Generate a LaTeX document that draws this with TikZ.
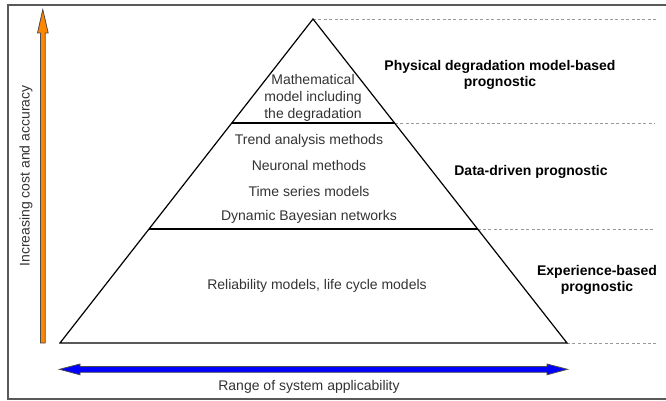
\documentclass[tikz,border=0pt]{standalone}
\usepackage{fontspec}
\setmainfont{Liberation Sans}
\begin{document}
\begin{tikzpicture}[x=1pt,y=-1pt,
  txt/.style={font=\fontsize{14}{17}\selectfont, text=black!80, inner sep=0pt, align=center},
  lbl/.style={font=\fontsize{14}{16.5}\selectfont\bfseries, text=black, inner sep=0pt, align=center},
  guide/.style={draw=black!40, line width=0.9pt, dash pattern=on 3pt off 2.4pt},
  edge/.style={draw=black, line width=1.2pt},
  layer/.style={draw=black, line width=2pt},
  arrowbody/.style={draw=black!70, line width=0.8pt, line join=miter}]
\useasboundingbox (0,0) rectangle (666,401);
% frame
\draw[black!65, line width=1.6pt] (670,5) -- (8,5) -- (8,399) -- (670,399);
% pyramid corners
\coordinate (apex) at (313,19);
\coordinate (bl) at (60,343);
\coordinate (br) at (567,343);
\coordinate (l1a) at (231.6,123);
\coordinate (l1b) at (394.7,123);
\coordinate (l2a) at (148.9,229);
\coordinate (l2b) at (477.6,229);
% guides
\coordinate (g0) at (657,19);
\coordinate (g1) at (655,123);
\coordinate (g2) at (653,229);
\coordinate (g3) at (657,343);
\draw[guide] (apex) -- (g0);
\draw[guide] (l1b) -- (g1);
\draw[guide] (l2b) -- (g2);
\draw[guide] (br) -- (g3);
% pyramid
\draw[edge, line join=miter] (bl) -- (apex) -- (br) -- cycle;
\draw[layer] (l1a) -- (l1b);
\draw[layer] (l2a) -- (l2b);
% orange arrow
\filldraw[arrowbody, fill=orange!95!yellow] (40.5,343) -- (40.5,33) -- (37.5,33) -- (42.8,9.5) -- (48.2,33) -- (45.2,33) -- (45.2,343) -- cycle;
% blue arrow
\filldraw[arrowbody, fill=blue] (80,366.5) -- (80,364) -- (59.5,369.3) -- (80,374.8) -- (80,372.3) -- (547,372.3) -- (547,374.8) -- (567.5,369.3) -- (547,364) -- (547,366.5) -- cycle;
% texts
\node[txt] (math) at (313,98) {Mathematical\\model including\\the degradation};
\node[txt] (t1) at (309,141) {Trend analysis methods};
\node[txt] (t2) at (309,165) {Neuronal methods};
\node[txt] (t3) at (309,191) {Time series models};
\node[txt] (t4) at (309,217) {Dynamic Bayesian networks};
\node[txt] (rel) at (317,286) {Reliability models, life cycle models};
\node[txt] (range) at (309,387) {Range of system applicability};
\node[txt, rotate=90] (cost) at (26,176) {Increasing cost and accuracy};
\node[lbl] (phys) at (500,75) {Physical degradation model-based\\prognostic};
\node[lbl] (data) at (531,172) {Data-driven prognostic};
\node[lbl] (exp) at (597,280) {Experience-based\\prognostic};
\end{tikzpicture}
\end{document}
